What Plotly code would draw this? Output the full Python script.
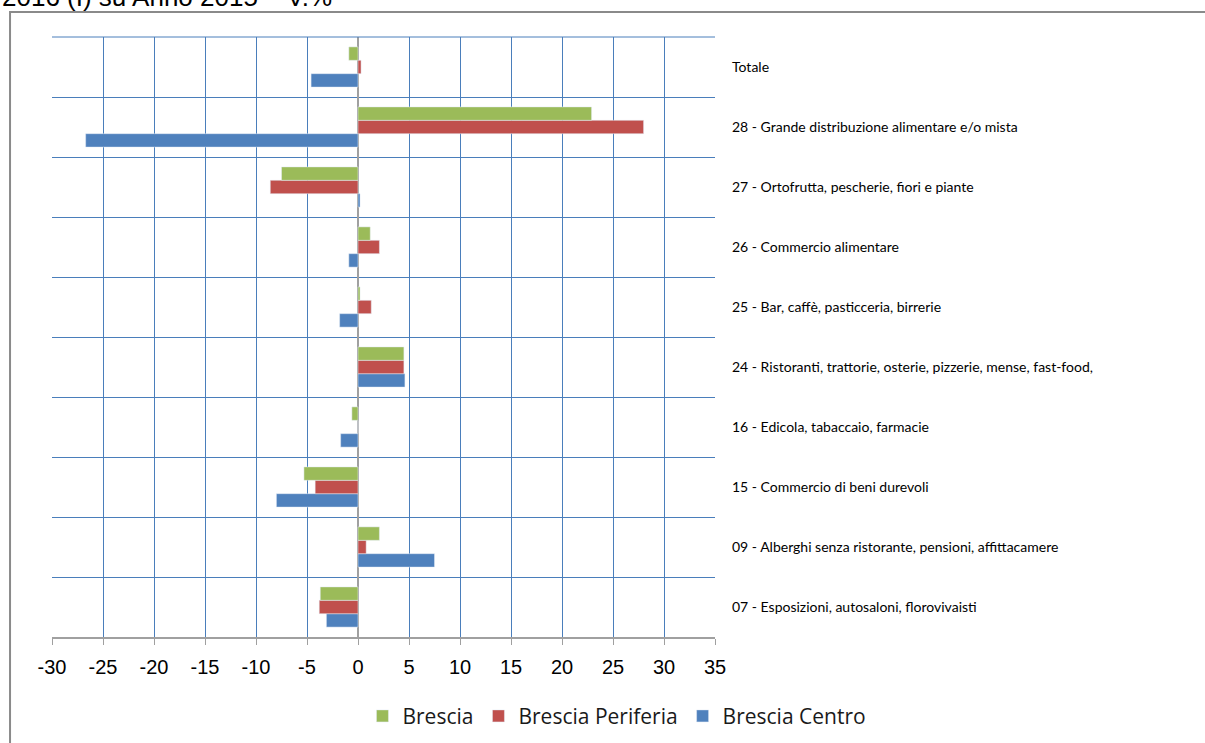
import plotly.graph_objects as go

# categories, bottom to top as they appear on the chart
categorie = [
    "07 - Esposizioni, autosaloni, florovivaisti",
    "09 - Alberghi senza ristorante, pensioni, affittacamere",
    "15 - Commercio di beni durevoli",
    "16 - Edicola, tabaccaio, farmacie",
    "24 - Ristoranti, trattorie, osterie, pizzerie, mense, fast-food,",
    "25 - Bar, caffè, pasticceria, birrerie",
    "26 - Commercio alimentare",
    "27 - Ortofrutta, pescherie, fiori e piante",
    "28 - Grande distribuzione alimentare e/o mista",
    "Totale",
]

brescia = [-3.7, 2.1, -5.3, -0.6, 4.5, 0.2, 1.2, -7.5, 22.9, -0.9]
brescia_periferia = [-3.8, 0.8, -4.2, 0.0, 4.5, 1.3, 2.1, -8.6, 28.0, 0.3]
brescia_centro = [-3.1, 7.5, -8.0, -1.7, 4.6, -1.8, -0.9, 0.2, -26.7, -4.6]

x_ticks = list(range(-30, 36, 5))

GRID = "#4a7ebb"
AXIS_GRAY = "#a0a0a0"

fig = go.Figure()
# first trace sits at the bottom of each group
fig.add_trace(go.Bar(y=categorie, x=brescia_centro, name="Brescia Centro", orientation="h",
                     marker=dict(color="#4f81bd")))
fig.add_trace(go.Bar(y=categorie, x=brescia_periferia, name="Brescia Periferia", orientation="h",
                     marker=dict(color="#c0504d")))
fig.add_trace(go.Bar(y=categorie, x=brescia, name="Brescia", orientation="h",
                     marker=dict(color="#9bbb59")))

fig.update_layout(
    width=1205, height=743,
    margin=dict(l=52, r=490, t=37, b=106),
    paper_bgcolor="white", plot_bgcolor="white",
    barmode="group", bargap=0.33, bargroupgap=0,
    font=dict(family="Liberation Sans, Arial", color="#000000"),
    legend=dict(orientation="h", traceorder="reversed",
                xref="container", x=0.512, xanchor="center",
                yref="container", y=0.036, yanchor="middle",
                font=dict(family="Open Sans", size=21, color="#1a1a1a")),
    showlegend=True,
)

fig.update_xaxes(
    range=[-30, 35], tickvals=x_ticks, ticktext=[str(v) for v in x_ticks],
    showgrid=True, gridcolor=GRID, gridwidth=1,
    zeroline=True, zerolinecolor=AXIS_GRAY, zerolinewidth=2,
    showline=True, linecolor=AXIS_GRAY, linewidth=2,
    ticks="outside", ticklen=6, tickcolor=AXIS_GRAY,
    ticklabelstandoff=5,
    tickfont=dict(family="Liberation Sans, Arial", size=20, color="#000000"),
)

fig.update_yaxes(
    type="category", categoryorder="array", categoryarray=categorie,
    range=[-0.5, 9.5], side="right", tickson="boundaries",
    showgrid=True, gridcolor=GRID, gridwidth=1, ticks="",
    ticklabelstandoff=16,
    tickfont=dict(family="Lato", size=14, color="#000000"),
)

# top edge of the plot area
fig.add_shape(type="line", xref="paper", yref="paper", x0=0, x1=1, y0=1, y1=1,
              line=dict(color=GRID, width=1))

# outer chart frame (runs off the picture to right and bottom)
fig.add_shape(type="rect", xref="paper", yref="paper",
              x0=-0.0633, x1=2.0, y0=-0.5, y1=1.0417,
              line=dict(color="#8a8a8a", width=2), layer="below")

# title, mostly cut off at the top of the page
fig.add_annotation(text="2016 (I) su Anno 2015 – V.%", xref="paper", yref="paper",
                   x=-0.0784, y=1.0375, xanchor="left", yanchor="bottom", showarrow=False,
                   font=dict(family="Liberation Sans, Arial", size=26, color="#000000"))

# drop the default page margin so the figure sits at the window's top-left corner
fig.write_html("out.html", config={"displayModeBar": False},
               post_script="document.body.style.margin='0';")
